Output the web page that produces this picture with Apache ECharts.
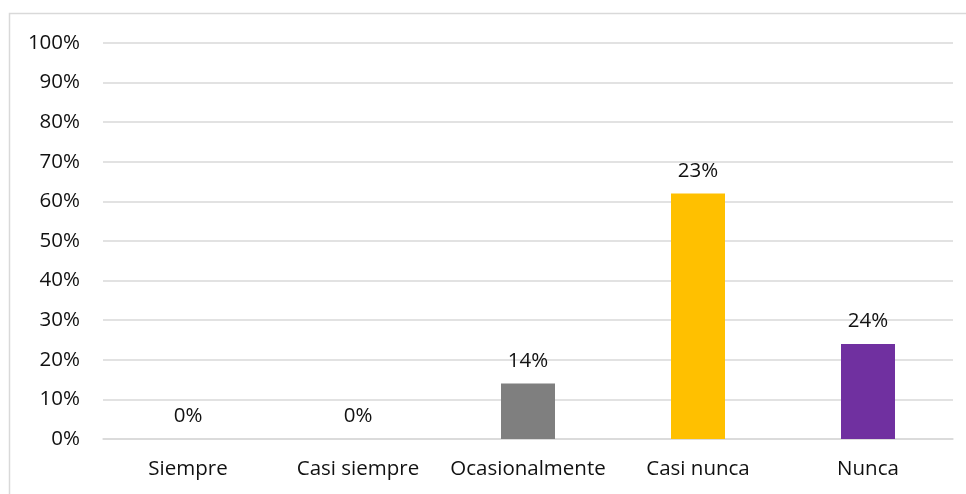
<!DOCTYPE html>
<html>
<head>
<meta charset="utf-8">
<script src="https://cdn.jsdelivr.net/npm/echarts@6/dist/echarts.min.js"></script>
<style>html,body{margin:0;padding:0;background:#fff}#c{width:966px;height:494px}</style>
</head>
<body>
<div id="c"></div>
<script>
const categories = ['Siempre', 'Casi siempre', 'Ocasionalmente', 'Casi nunca', 'Nunca'];
const values = [0, 0, 0.14, 0.62, 0.24];
const labels = ['0%', '0%', '14%', '23%', '24%'];
const colors = ['#7F7F7F', '#7F7F7F', '#7F7F7F', '#FFC000', '#7030A0'];
const yTicks = [0, 0.1, 0.2, 0.3, 0.4, 0.5, 0.6, 0.7, 0.8, 0.9, 1];

const FONT = 'Open Sans';
const FS = 20.5;
const chart = echarts.init(document.getElementById('c'), null, {renderer: 'canvas'});
chart.setOption({
  animation: false,
  backgroundColor: '#fff',
  graphic: [{
    type: 'rect', shape: {x: 9.5, y: 13.5, width: 980, height: 520},
    style: {fill: 'none', stroke: '#D9D9D9', lineWidth: 1.5}, silent: true, z: -1
  }],
  grid: {left: 103, right: 13, top: 43, bottom: 55, containLabel: false},
  xAxis: {
    type: 'category', data: categories,
    axisLine: {show: true, lineStyle: {color: '#D9D9D9', width: 1.5}},
    axisTick: {show: false},
    axisLabel: {color: '#111', fontFamily: FONT, fontSize: FS, margin: 20, interval: 0}
  },
  yAxis: {
    type: 'value', min: 0, max: 1, interval: 0.1,
    axisLine: {show: false}, axisTick: {show: false},
    splitLine: {lineStyle: {color: '#D9D9D9', width: 1.5}},
    axisLabel: {
      color: '#111', fontFamily: FONT, fontSize: FS, margin: 23,
      formatter: v => Math.round(v * 100) + '%'
    }
  },
  series: [{
    type: 'bar', barWidth: 54,
    data: values.map((v, i) => ({value: v, itemStyle: {color: colors[i]}})),
    label: {
      show: true, position: 'top', distance: 12,
      color: '#111', fontFamily: FONT, fontSize: FS,
      formatter: p => labels[p.dataIndex]
    }
  }]
});
</script>
</body>
</html>
